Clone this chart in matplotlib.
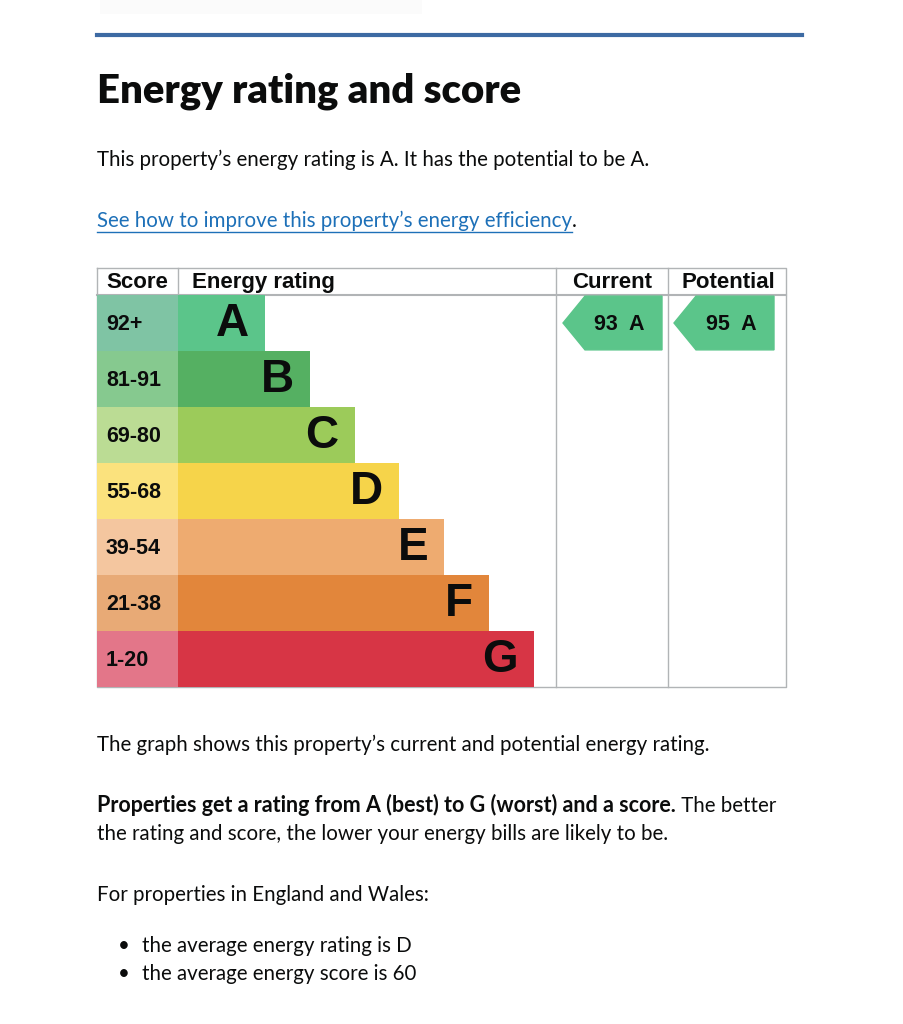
import matplotlib
matplotlib.use("Agg")
import matplotlib.pyplot as plt
from matplotlib.patches import Polygon, Rectangle

# EPC bands, top (best) to bottom (worst)
bands = ["A", "B", "C", "D", "E", "F", "G"]
score_ranges = ["92+", "81-91", "69-80", "55-68", "39-54", "21-38", "1-20"]
band_min = [92, 81, 69, 55, 39, 21, 1]
bar_colours = ["#5bc58a", "#55b062", "#9ccb5a", "#f6d44a", "#eeab70", "#e2863b", "#d73545"]
score_colours = ["#7fc4a4", "#86c98f", "#bbdc94", "#fbe27d", "#f4c69f", "#e8aa76", "#e37689"]

current_score = 93
potential_score = 95

W, H = 904, 1024
fig = plt.figure(figsize=(W / 100, H / 100), dpi=100)
fig.patch.set_facecolor("white")


def fx(px):
    return px / W


def fy(py):
    return 1 - py / H


def band_of(score):
    for i, lo in enumerate(band_min):
        if score >= lo:
            return i
    return len(bands) - 1


body_font = "Lato"
chart_font = "Liberation Sans"
grey = "#b1b4b6"
ink = "#0b0c0c"
body_size = 14.8

# faint shadow of the element above, and the blue rule
fig.add_artist(Rectangle((fx(100), fy(14)), (422 - 100) / W, 14 / H, transform=fig.transFigure,
                         color="#fbfbfb", lw=0))
fig.add_artist(plt.Line2D([fx(97), fx(802)], [fy(35), fy(35)], color="#3d6aa3", lw=3))

fig.text(fx(97), fy(103), "Energy rating and score", fontsize=28.8, fontweight="heavy",
         family=body_font, color=ink, va="baseline")
fig.text(fx(97), fy(166), "This property\u2019s energy rating is A. It has the potential to be A.",
         fontsize=body_size, family=body_font, color=ink, va="baseline")

link = fig.text(fx(97), fy(227), "See how to improve this property\u2019s energy efficiency",
                fontsize=body_size, family=body_font, color="#1d70b8", va="baseline")
fig.canvas.draw()
r = fig.canvas.get_renderer()
bb = link.get_window_extent(r)
x_end = bb.x1 / W
fig.add_artist(plt.Line2D([fx(97), x_end], [fy(232), fy(232)], color="#1d70b8", lw=1))
fig.text(x_end, fy(227), ".", fontsize=body_size, family=body_font, color=ink, va="baseline")

# ---- the rating table ----
ax = fig.add_axes([fx(97), fy(687), 689 / W, 419 / H])
ax.set_xlim(0, 689)
head = 27 / 56
ax.set_ylim(7, -head)
ax.axis("off")

rows = list(range(len(bands)))
score_w = 81
bar_step = 44.8
bar_w = [87 + bar_step * i for i in rows]

# grid lines
ax.plot([0, 689, 689, 0, 0], [-head, -head, 7, 7, -head], color=grey, lw=1, zorder=1, clip_on=False)
ax.plot([0, 689], [0, 0], color=grey, lw=1.5, zorder=1, clip_on=False)
ax.plot([score_w, score_w], [-head, 0], color=grey, lw=1, zorder=1, clip_on=False)
for xv in (459, 571):
    ax.plot([xv, xv], [-head, 7], color=grey, lw=1, zorder=1, clip_on=False)

ax.barh(rows, score_w, left=0, height=1, align="edge", color=score_colours, zorder=2)
ax.barh(rows, bar_w, left=score_w, height=1, align="edge", color=bar_colours, zorder=2)

for i in rows:
    ax.text(9, i + 0.52, score_ranges[i], fontsize=15.5, fontweight="bold", family=chart_font,
            ha="left", va="center", color=ink, zorder=3)
    ax.text(score_w + bar_w[i] - 16, i + 0.52, bands[i], fontsize=33, fontweight="bold",
            family=chart_font, ha="right", va="center", color=ink, zorder=3)

hy = -head / 2 + 0.02
hdr = dict(fontsize=16, fontweight="bold", family=chart_font, va="center", color=ink)
ax.text(9, hy, "Score", **hdr)
ax.text(95, hy, "Energy rating", **hdr)
ax.text(515, hy, "Current", ha="center", **hdr)
ax.text(631, hy, "Potential", ha="center", **hdr)


def arrow(x0, x1, score):
    i = band_of(score)
    tip = 22
    pts = [(x0, i + 0.5), (x0 + tip, i + 0.02), (x1, i + 0.02), (x1, i + 0.98), (x0 + tip, i + 0.98)]
    ax.add_patch(Polygon(pts, closed=True, color=bar_colours[i], zorder=2))
    ax.text((x0 + tip + x1) / 2 - 4, i + 0.52, f"{score}  {bands[i]}", fontsize=15.5, fontweight="bold",
            family=chart_font, ha="center", va="center", color=ink, zorder=3)


arrow(466, 565, current_score)
arrow(577, 677, potential_score)

# ---- text below ----
fig.text(fx(97), fy(751), "The graph shows this property\u2019s current and potential energy rating.",
         fontsize=body_size, family=body_font, color=ink, va="baseline")
bold = fig.text(fx(97), fy(812), "Properties get a rating from A (best) to G (worst) and a score.",
                fontsize=15.5, fontweight="bold", family=body_font, color=ink, va="baseline")
fig.canvas.draw()
bx = bold.get_window_extent(fig.canvas.get_renderer()).x1 / W
fig.text(bx, fy(812), " The better", fontsize=body_size, family=body_font, color=ink, va="baseline")
fig.text(fx(97), fy(840), "the rating and score, the lower your energy bills are likely to be.",
         fontsize=body_size, family=body_font, color=ink, va="baseline")
fig.text(fx(97), fy(901), "For properties in England and Wales:",
         fontsize=body_size, family=body_font, color=ink, va="baseline")
for yy, line in ((952, "the average energy rating is D"), (980, "the average energy score is 60")):
    fig.text(fx(118), fy(yy), "\u2022", fontsize=body_size, family=body_font, color=ink, va="baseline")
    fig.text(fx(142), fy(yy), line, fontsize=body_size, family=body_font, color=ink, va="baseline")

fig.savefig("out.png", dpi=100, facecolor="white")
